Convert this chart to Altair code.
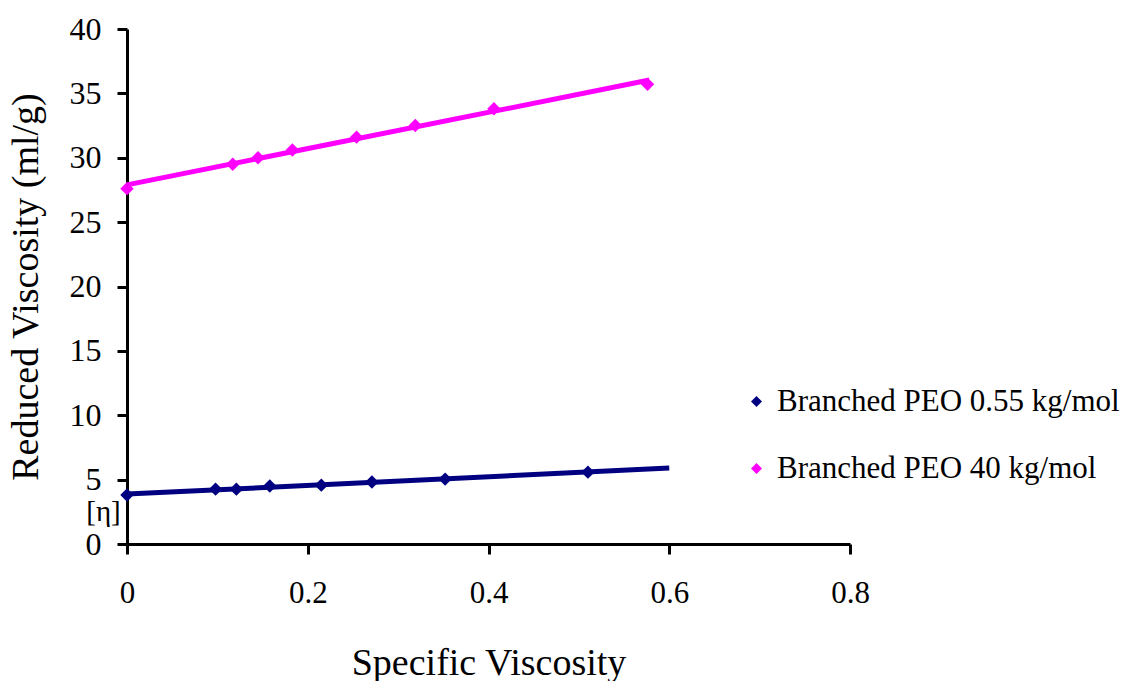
import altair as alt
import pandas as pd

# Branched PEO 0.55 kg/mol
x_low = [0.0, 0.098, 0.121, 0.158, 0.215, 0.271, 0.352, 0.510]
y_low = [3.80, 4.26, 4.26, 4.50, 4.57, 4.81, 5.04, 5.58]
# Branched PEO 40 kg/mol
x_high = [0.0, 0.117, 0.145, 0.183, 0.254, 0.319, 0.406, 0.576]
y_high = [27.6, 29.5, 30.0, 30.6, 31.6, 32.5, 33.8, 35.7]

series_names = ["Branched PEO 0.55 kg/mol", "Branched PEO 40 kg/mol"]
series_colors = ["#000080", "#FF00FF"]
x_ticks = [0, 0.2, 0.4, 0.6, 0.8]
y_ticks = [0, 5, 10, 15, 20, 25, 30, 35, 40]

df = pd.DataFrame({
    "x": x_low + x_high,
    "y": y_low + y_high,
    "series": [series_names[0]] * len(x_low) + [series_names[1]] * len(x_high),
})

FONT = "Liberation Serif"

xs = alt.Scale(domain=[0, 0.8], nice=False, zero=False)
ys = alt.Scale(domain=[0, 40], nice=False, zero=False)

xenc = alt.X("x:Q", scale=xs, axis=alt.Axis(
    values=x_ticks, format="~g", title="Specific Viscosity", grid=False,
    domainColor="black", domainWidth=3, tickColor="black", tickWidth=3, tickSize=10,
    labelFont=FONT, labelFontSize=31, labelColor="black", labelPadding=24, labelFlush=False,
    titleFont=FONT, titleFontSize=38, titleFontWeight="normal", titleColor="black",
    titlePadding=36))
yenc = alt.Y("y:Q", scale=ys, axis=alt.Axis(
    values=y_ticks, title="Reduced Viscosity (ml/g)", grid=False,
    domainColor="black", domainWidth=3, tickColor="black", tickWidth=3, tickSize=10,
    labelFont=FONT, labelFontSize=32, labelColor="black", labelPadding=16, labelFlush=False,
    titleFont=FONT, titleFontSize=38, titleFontWeight="normal", titleColor="black",
    titlePadding=24))

base = alt.Chart(df)

line_low = base.transform_filter(alt.datum.series == series_names[0]).transform_regression(
    "x", "y", extent=[0, 0.6]).mark_line(strokeWidth=5, color=series_colors[0]).encode(x=xenc, y=yenc)
line_high = base.transform_filter(alt.datum.series == series_names[1]).transform_regression(
    "x", "y", extent=[0, 0.578]).mark_line(strokeWidth=5, color=series_colors[1]).encode(x=xenc, y=yenc)

points = base.mark_point(shape="diamond", filled=True, size=180, opacity=1).encode(
    x=xenc, y=yenc,
    color=alt.Color("series:N", scale=alt.Scale(domain=series_names, range=series_colors),
                    legend=alt.Legend(title=None, orient="none", legendX=614, legendY=357,
                                      symbolType="diamond", symbolSize=120, symbolStrokeWidth=0,
                                      labelFont=FONT, labelFontSize=31, labelColor="black",
                                      rowPadding=35, labelOffset=5, labelLimit=500,
                                      padding=0)))

eta = alt.Chart(pd.DataFrame({"x": [-0.026], "y": [2.5], "t": ["[η]"]})).mark_text(
    font=FONT, fontSize=29, color="black", align="center", baseline="middle", clip=False
).encode(x=alt.X("x:Q", scale=xs), y=alt.Y("y:Q", scale=ys), text="t:N")

chart = alt.layer(line_low, line_high, points, eta).properties(
    width=723, height=515, autosize="none", background="white",
    padding={"left": 127, "top": 29, "right": 273, "bottom": 137},
).configure_view(strokeWidth=0, stroke="transparent")

chart.save("out.html", embed_options={"renderer": "svg", "actions": False})
